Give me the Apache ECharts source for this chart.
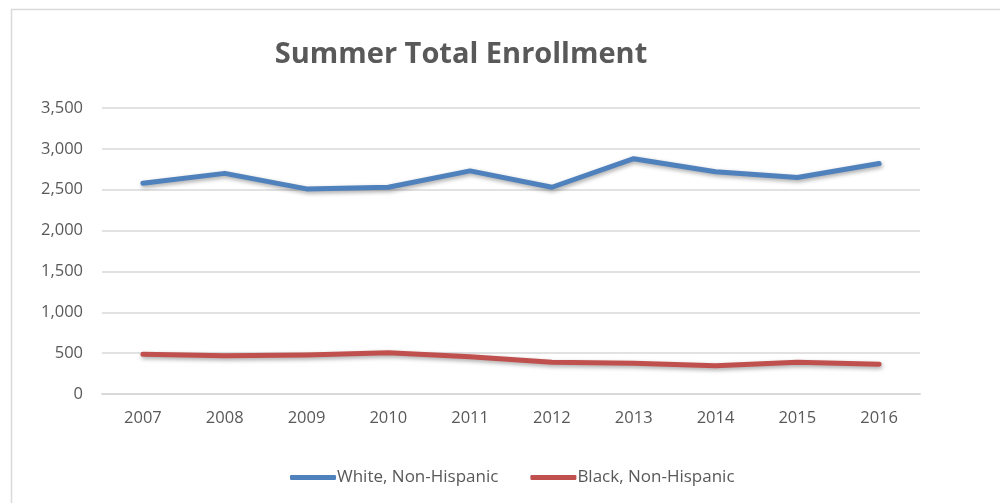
<!DOCTYPE html>
<html>
<head>
<meta charset="utf-8">
<script src="https://cdn.jsdelivr.net/npm/echarts@6/dist/echarts.min.js"></script>
<style>html,body{margin:0;padding:0;background:#fff;}#c{width:1000px;height:503px;}</style>
</head>
<body>
<div id="c"></div>
<script>
const years = ['2007','2008','2009','2010','2011','2012','2013','2014','2015','2016'];
const whiteNH = [2580, 2700, 2510, 2530, 2730, 2530, 2880, 2720, 2650, 2820];
const blackNH = [485, 468, 477, 505, 455, 390, 375, 345, 388, 365];
const yTicks = [0, 500, 1000, 1500, 2000, 2500, 3000, 3500];

const chart = echarts.init(document.getElementById('c'), null, {renderer:'canvas'});
const font = '"Open Sans", "Noto Sans", sans-serif';
const lineSeries = (name, data, color) => ({
  name, type:'line', data, symbol:'none', smooth:false,
  lineStyle:{width:5, color, cap:'round', join:'round',
    shadowColor:'rgba(0,0,0,0.35)', shadowBlur:4, shadowOffsetX:1, shadowOffsetY:2},
  itemStyle:{color}
});
chart.setOption({
  animation:false,
  backgroundColor:'#fff',
  graphic:[{type:'rect', left:9, top:7, shape:{width:1010, height:510}, style:{fill:'none', stroke:'#d9d9d9', lineWidth:1.5}, z:-1}],
  title:{text:'Summer Total Enrollment', left:456, top:35, textAlign:'center',
    textStyle:{fontFamily:font, fontWeight:'bold', fontSize:29, color:'#595959'}},
  grid:{left:102, right:80, top:108, bottom:109, containLabel:false},
  legend:{bottom:12, left:285, itemWidth:46, itemHeight:5, itemGap:32,
    icon:'roundRect',
    textStyle:{fontFamily:font, fontSize:17, color:'#595959', padding:[0,0,0,-4]},
    data:['White, Non-Hispanic','Black, Non-Hispanic']},
  xAxis:{type:'category', data:years, boundaryGap:true,
    axisLine:{show:true, lineStyle:{color:'#d9d9d9', width:2}},
    axisTick:{show:false},
    axisLabel:{fontFamily:font, fontSize:16.5, color:'#595959', margin:16}},
  yAxis:{type:'value', min:0, max:3500, interval:500,
    axisLine:{show:false}, axisTick:{show:false},
    splitLine:{lineStyle:{color:'#d9d9d9', width:1.5}},
    axisLabel:{fontFamily:font, fontSize:16.5, color:'#595959', margin:19,
      formatter:v => yTicks.includes(v) ? v.toLocaleString('en-US') : ''}},
  series:[
    lineSeries('White, Non-Hispanic', whiteNH, '#4F81BD'),
    lineSeries('Black, Non-Hispanic', blackNH, '#C0504D')
  ]
});
</script>
</body>
</html>
